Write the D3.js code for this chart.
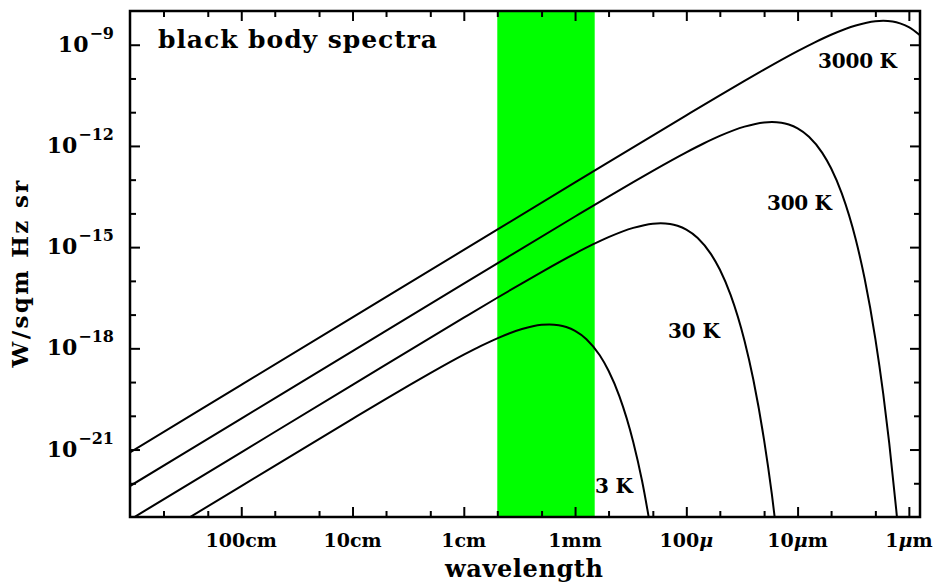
<!DOCTYPE html>
<html>
<head>
<meta charset="utf-8">
<script src="https://cdn.jsdelivr.net/npm/d3@7"></script>
<style>
  body { margin: 0; background: #fff; }
  text { font-family: "DejaVu Serif", serif; font-weight: bold; fill: #000; }
</style>
</head>
<body>
<svg id="chart" width="934" height="583"></svg>
<script>
// wavelengths in metres, flux in W / m^2 Hz sr
var lambda3000 = [10, 1, 0.1, 0.01, 1e-3, 1e-4, 5e-5, 3e-5, 2e-5, 1e-5, 7e-6, 5e-6, 3e-6, 2e-6, 1.7e-6, 1.4e-6, 1.2e-6, 1e-6, 7.9e-7];
var flux3000 = [8.28e-22, 8.28e-20, 8.28e-18, 8.28e-16, 8.26e-14, 8.10e-12, 3.16e-11, 8.49e-11, 1.83e-10, 6.46e-10, 1.18e-9, 1.98e-9, 3.73e-9, 4.97e-9, 5.12e-9, 4.87e-9, 4.30e-9, 3.31e-9, 1.87e-9];

var lambda300 = [10, 1, 0.1, 0.01, 1e-3, 5e-4, 3e-4, 2e-4, 1e-4, 7e-5, 5e-5, 3e-5, 2e-5, 1.7e-5, 1.4e-5, 1.2e-5, 1e-5, 7.9e-6, 6e-6, 5e-6, 4e-6, 3e-6, 2.5e-6, 2e-6, 1.7e-6, 1.5e-6, 1.3e-6, 1.25e-6];
var flux300 = [8.28e-23, 8.28e-21, 8.28e-19, 8.26e-17, 8.10e-15, 3.16e-14, 8.49e-14, 1.83e-13, 6.46e-13, 1.18e-12, 1.98e-12, 3.73e-12, 4.97e-12, 5.12e-12, 4.87e-12, 4.30e-12, 3.31e-12, 1.87e-12, 6.22e-13, 2.17e-13, 3.85e-14, 1.68e-15, 1.19e-16, 1.91e-18, 4.53e-20, 1.53e-21, 1.72e-23, 4.41e-24];

var lambda30 = [10, 1, 0.1, 0.01, 5e-3, 3e-3, 2e-3, 1e-3, 7e-4, 5e-4, 3e-4, 2e-4, 1.7e-4, 1.4e-4, 1.2e-4, 1e-4, 7.9e-5, 6e-5, 5e-5, 4e-5, 3e-5, 2.5e-5, 2e-5, 1.7e-5, 1.5e-5];
var flux30 = [8.28e-24, 8.28e-22, 8.26e-20, 8.10e-18, 3.16e-17, 8.49e-17, 1.83e-16, 6.46e-16, 1.18e-15, 1.98e-15, 3.73e-15, 4.97e-15, 5.12e-15, 4.87e-15, 4.30e-15, 3.31e-15, 1.87e-15, 6.22e-16, 2.17e-16, 3.85e-17, 1.68e-18, 1.19e-19, 1.91e-21, 4.53e-23, 1.53e-24];

var lambda3 = [10, 1, 0.1, 0.05, 0.03, 0.02, 0.01, 7e-3, 5e-3, 3e-3, 2e-3, 1.7e-3, 1.4e-3, 1.2e-3, 1e-3, 7.9e-4, 6e-4, 5e-4, 4e-4, 3e-4, 2.5e-4, 2e-4];
var flux3 = [8.28e-25, 8.26e-23, 8.10e-21, 3.16e-20, 8.49e-20, 1.83e-19, 6.46e-19, 1.18e-18, 1.98e-18, 3.73e-18, 4.97e-18, 5.12e-18, 4.87e-18, 4.30e-18, 3.31e-18, 1.87e-18, 6.22e-19, 2.17e-19, 3.85e-20, 1.68e-21, 1.19e-22, 1.91e-24];

var curveLabels = ["3000 K", "300 K", "30 K", "3 K"];

// shaded band (wavelength limits)
var bandLambda = [5e-3, 6.66e-4];

// axis ticks
var xMajorTicks = [1, 0.1, 0.01, 1e-3, 1e-4, 1e-5, 1e-6];
var xTickLabels = ["100cm", "10cm", "1cm", "1mm", "100\u03bc", "10\u03bcm", "1\u03bcm"];
var xMinorTicks = [5, 2, 0.5, 0.2, 0.05, 0.02, 5e-3, 2e-3, 5e-4, 2e-4, 5e-5, 2e-5, 5e-6, 2e-6];
var yMajorTicks = [1e-9, 1e-12, 1e-15, 1e-18, 1e-21];
var yExponents = [-9, -12, -15, -18, -21];
var yMinorTicks = [1e-10, 1e-11, 1e-13, 1e-14, 1e-16, 1e-17, 1e-19, 1e-20, 1e-22];

var svg = d3.select("#chart");
// plot box (note: "top" is taken by window.top, hence the prefix)
var pLeft = 130, pRight = 920, pTop = 11, pBottom = 517;

var x = d3.scaleLog().domain([10, 7.94e-7]).range([pLeft, pRight]);
var y = d3.scaleLog().domain([1e-23, 1e-8]).range([pBottom, pTop]);

svg.append("defs").append("clipPath").attr("id", "plot")
  .append("rect")
    .attr("x", pLeft).attr("y", pTop)
    .attr("width", pRight - pLeft).attr("height", pBottom - pTop);

// green band
svg.append("rect")
  .attr("x", x(bandLambda[0]))
  .attr("y", pTop)
  .attr("width", x(bandLambda[1]) - x(bandLambda[0]))
  .attr("height", pBottom - pTop)
  .attr("fill", "#00ff00");

// spectra
var series = [
  {label: curveLabels[0], lambda: lambda3000, flux: flux3000, lx: 818, ly: 68, w: 79},
  {label: curveLabels[1], lambda: lambda300, flux: flux300, lx: 767, ly: 210, w: 65},
  {label: curveLabels[2], lambda: lambda30, flux: flux30, lx: 668, ly: 338, w: 52},
  {label: curveLabels[3], lambda: lambda3, flux: flux3, lx: 595, ly: 493, w: 38}
];

var line = d3.line()
  .x(function(d) { return x(d[0]); })
  .y(function(d) { return y(d[1]); })
  .curve(d3.curveMonotoneX);

svg.append("g").attr("clip-path", "url(#plot)")
  .selectAll("path")
  .data(series)
  .enter().append("path")
    .attr("d", function(s) { return line(d3.zip(s.lambda, s.flux)); })
    .attr("fill", "none")
    .attr("stroke", "#000")
    .attr("stroke-width", 2);

svg.selectAll(".curve-label")
  .data(series)
  .enter().append("text")
    .attr("class", "curve-label")
    .attr("x", function(s) { return s.lx; })
    .attr("y", function(s) { return s.ly; })
    .attr("font-size", 20)
    .attr("textLength", function(s) { return s.w; })
    .attr("lengthAdjust", "spacing")
    .text(function(s) { return s.label; });

// ticks on all four sides, pointing inward
function ticks(axis, values, size, transform) {
  svg.append("g")
    .attr("transform", transform)
    .call(axis.tickValues(values).tickSize(-size).tickFormat(""))
    .call(function(g) { g.select(".domain").remove(); })
    .selectAll("line")
      .attr("stroke", "#000")
      .attr("stroke-width", 2);
}

ticks(d3.axisBottom(x), xMajorTicks, 10, "translate(0," + pBottom + ")");
ticks(d3.axisBottom(x), xMinorTicks, 6, "translate(0," + pBottom + ")");
ticks(d3.axisTop(x), xMajorTicks, 10, "translate(0," + pTop + ")");
ticks(d3.axisTop(x), xMinorTicks, 6, "translate(0," + pTop + ")");
ticks(d3.axisLeft(y), yMajorTicks, 10, "translate(" + pLeft + ",0)");
ticks(d3.axisLeft(y), yMinorTicks, 6, "translate(" + pLeft + ",0)");
ticks(d3.axisRight(y), yMajorTicks, 10, "translate(" + pRight + ",0)");
ticks(d3.axisRight(y), yMinorTicks, 6, "translate(" + pRight + ",0)");

// frame
svg.append("rect")
  .attr("x", pLeft).attr("y", pTop)
  .attr("width", pRight - pLeft).attr("height", pBottom - pTop)
  .attr("fill", "none")
  .attr("stroke", "#000")
  .attr("stroke-width", 2.5);

// x tick labels, mu in italics
svg.selectAll(".xlabel")
  .data(xMajorTicks)
  .enter().append("text")
    .attr("class", "xlabel")
    .attr("x", function(d) { return x(d); })
    .attr("y", 547)
    .attr("font-size", 19)
    .attr("text-anchor", "middle")
    .each(function(d, i) {
      var parts = xTickLabels[i].split("\u03bc");
      var t = d3.select(this);
      t.append("tspan").text(parts[0]);
      if (parts.length > 1) {
        t.append("tspan").attr("font-style", "italic").text("\u03bc");
        t.append("tspan").text(parts[1]);
      }
    });

// y tick labels as powers of ten
svg.selectAll(".ylabel")
  .data(yMajorTicks)
  .enter().append("text")
    .attr("class", "ylabel")
    .attr("x", 114)
    .attr("y", function(d) { return y(d) + 7; })
    .attr("text-anchor", "end")
    .each(function(d, i) {
      var t = d3.select(this);
      t.append("tspan").attr("font-size", 22).text("10");
      t.append("tspan").attr("font-size", 16).attr("dx", 1).attr("dy", -13)
        .text("\u2212" + Math.abs(yExponents[i]));
    });

// titles
svg.append("text")
  .attr("x", 158).attr("y", 48)
  .attr("font-size", 25)
  .attr("textLength", 279).attr("lengthAdjust", "spacing")
  .text("black body spectra");

svg.append("text")
  .attr("x", 524).attr("y", 577)
  .attr("font-size", 24)
  .attr("text-anchor", "middle")
  .attr("textLength", 158).attr("lengthAdjust", "spacing")
  .text("wavelength");

svg.append("text")
  .attr("transform", "translate(28,274) rotate(-90)")
  .attr("font-size", 23)
  .attr("text-anchor", "middle")
  .attr("textLength", 187).attr("lengthAdjust", "spacing")
  .text("W/sqm Hz sr");
</script>
</body>
</html>
